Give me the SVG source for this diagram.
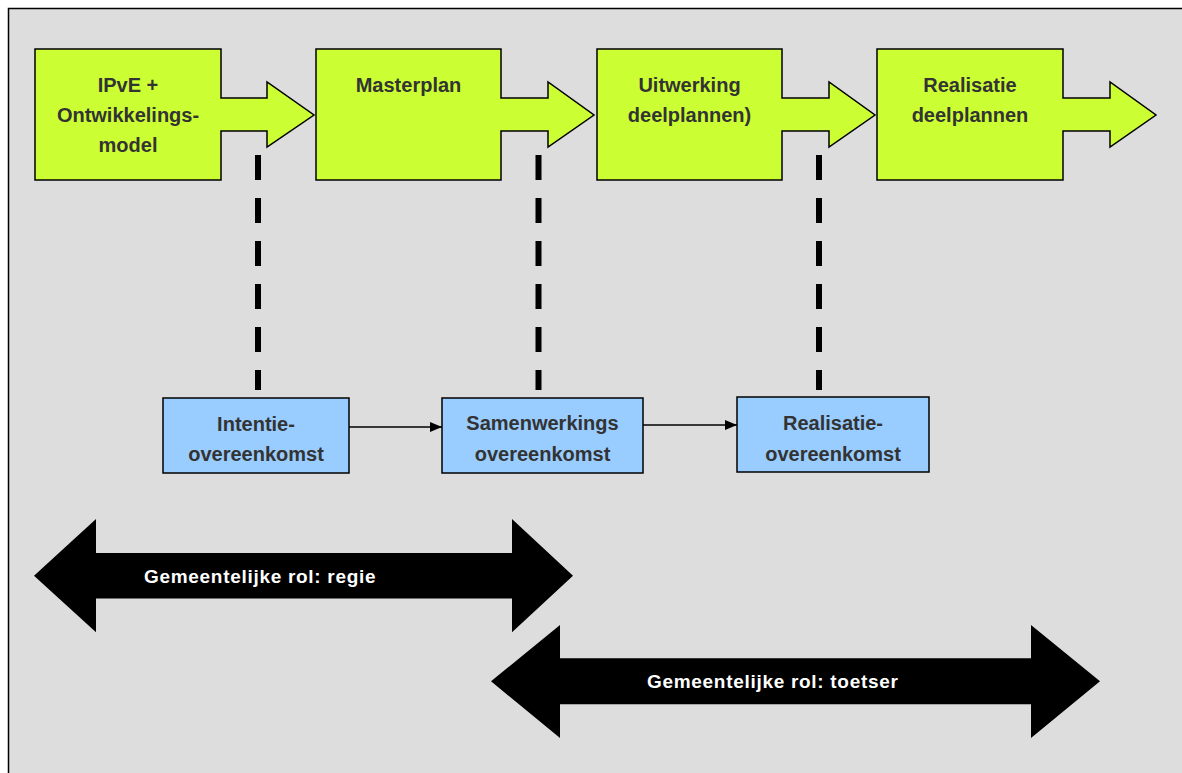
<svg xmlns="http://www.w3.org/2000/svg" width="1182" height="773" viewBox="0 0 1182 773">
<defs>
<style>
.stage{fill:#ccff33;stroke:#000;stroke-width:1.5;stroke-linejoin:miter}
.contract{fill:#99ccff;stroke:#000;stroke-width:1.5}
.t{font-family:"Liberation Sans",Arial,sans-serif;font-weight:bold;font-size:20px;fill:#333333;text-anchor:middle}
.w{font-family:"Liberation Sans",Arial,sans-serif;font-weight:bold;font-size:19px;fill:#ffffff;letter-spacing:0.7px}
.dash{stroke:#000;stroke-width:6;stroke-dasharray:25 18;fill:none}
.conn{stroke:#000;stroke-width:1.5;fill:none}
.role{fill:#000}
</style>
<marker id="ah" markerWidth="12" markerHeight="10" refX="12" refY="5" orient="auto" markerUnits="userSpaceOnUse">
<path d="M0,0 L12,5 L0,10 Z" fill="#000"/>
</marker>
</defs>
<rect x="8.5" y="8.5" width="1180" height="770" fill="#dddddd" stroke="#000" stroke-width="1.5"/>

<g id="stage1">
<path class="stage" d="M35,49 H221 V98 H267 V82 L314,115 L267,147 V131 H221 V180 H35 Z"/>
<text class="t" x="128" y="92">IPvE +</text>
<text class="t" x="128" y="122">Ontwikkelings-</text>
<text class="t" x="128" y="152">model</text>
</g>
<g id="stage2">
<path class="stage" d="M316,49 H501 V98 H548 V82 L594,115 L548,147 V131 H501 V180 H316 Z"/>
<text class="t" x="408.5" y="92">Masterplan</text>
</g>
<g id="stage3">
<path class="stage" d="M597,49 H782 V98 H829 V82 L875,115 L829,147 V131 H782 V180 H597 Z"/>
<text class="t" x="689.5" y="92">Uitwerking</text>
<text class="t" x="689.5" y="122">deelplannen)</text>
</g>
<g id="stage4">
<path class="stage" d="M877,49 H1063 V98 H1110 V82 L1156,115 L1110,147 V131 H1063 V180 H877 Z"/>
<text class="t" x="970" y="92">Realisatie</text>
<text class="t" x="970" y="122">deelplannen</text>
</g>

<g id="connectors">
<line class="dash" x1="258" y1="155" x2="258" y2="390"/>
<line class="dash" x1="538.5" y1="155" x2="538.5" y2="390"/>
<line class="dash" x1="819" y1="155" x2="819" y2="390"/>
<line class="conn" x1="349" y1="427" x2="442" y2="427" marker-end="url(#ah)"/>
<line class="conn" x1="643" y1="425" x2="737" y2="425" marker-end="url(#ah)"/>
</g>

<g id="contract1">
<rect class="contract" x="163" y="398" width="186" height="75"/>
<text class="t" x="256" y="431">Intentie-</text>
<text class="t" x="256" y="461">overeenkomst</text>
</g>
<g id="contract2">
<rect class="contract" x="442" y="398" width="201" height="75"/>
<text class="t" x="542.5" y="430">Samenwerkings</text>
<text class="t" x="542.5" y="461">overeenkomst</text>
</g>
<g id="contract3">
<rect class="contract" x="737" y="397" width="192" height="75"/>
<text class="t" x="833" y="430">Realisatie-</text>
<text class="t" x="833" y="461">overeenkomst</text>
</g>

<g id="role-regie">
<path class="role" d="M34,575.7 L96,519 V553 H512 V519 L573,575.7 L512,632.3 V598.5 H96 V632.3 Z"/>
<text class="w" x="144" y="583">Gemeentelijke rol: regie</text>
</g>
<g id="role-toetser">
<path class="role" d="M491,681.3 L560,625 V658.3 H1031 V625 L1100,681.3 L1031,738 V704.3 H560 V738 Z"/>
<text class="w" x="647" y="688">Gemeentelijke rol: toetser</text>
</g>
</svg>
